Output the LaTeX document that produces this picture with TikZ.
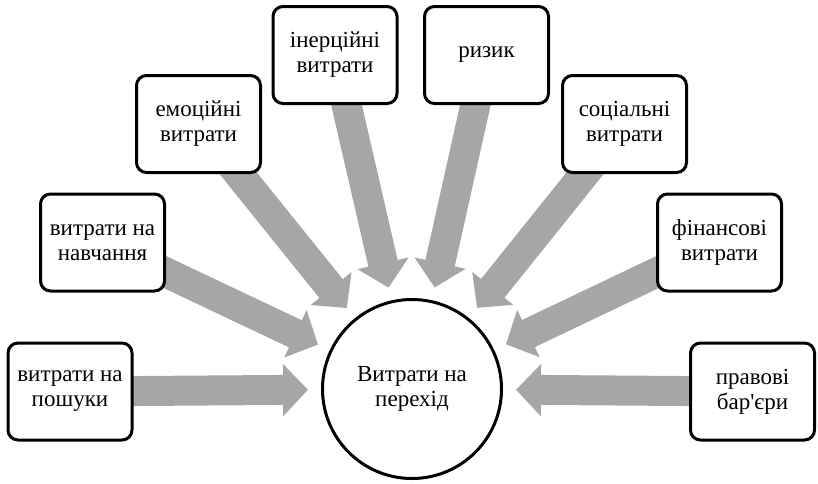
\documentclass[tikz,border=0pt]{standalone}
\usepackage{fontspec}
\setmainfont{Liberation Serif}[Ligatures=TeXOff]
\newfontfamily\cyrserif{Liberation Serif}[Ligatures=TeXOff,Script=Cyrillic]
\usetikzlibrary{arrows.meta,calc,backgrounds}
\definecolor{arrgray}{RGB}{166,166,166}
\tikzset{
  box/.style={draw=black, line width=3pt, rounded corners=10pt, fill=white,
    minimum width=124pt, minimum height=97pt, align=center,
    font=\cyrserif\fontsize{23}{25}\selectfont},
  hub/.style={draw=black, line width=3pt, circle, fill=white, minimum size=179pt,
    align=center, font=\cyrserif\fontsize{23}{25}\selectfont},
  bigarrow/.style={draw=arrgray, line width=30pt,
    -{Triangle[length=25pt,width=51pt]}}
}
\begin{document}
\begin{tikzpicture}[x=1pt,y=-1pt]
\useasboundingbox (0,0) rectangle (818,483);
\node[hub] (c) at (412,389) {Витрати на\\перехід};
\node[box] (b1) at (70,391.5) {витрати на\\пошуки};
\node[box] (b2) at (102.5,242.5) {витрати на\\навчання};
\node[box] (b3) at (198.5,124) {емоційні\\витрати};
\node[box] (b4) at (335,55) {інерційні\\витрати};
\node[box] (b5) at (486.5,55) {ризик};
\node[box] (b6) at (624.5,124) {соціальні\\витрати};
\node[box] (b7) at (719.5,242.5) {фінансові\\витрати};
\node[box] (b8) at (752.5,391.5) {правові\\бар'єри};
\begin{scope}[on background layer]
\foreach \b in {b1,b2,b3,b4,b5,b6,b7,b8}
  \draw[bigarrow] (\b.center) -- ($(c.center)!104pt!(\b.center)$);
\end{scope}
\end{tikzpicture}
\end{document}
